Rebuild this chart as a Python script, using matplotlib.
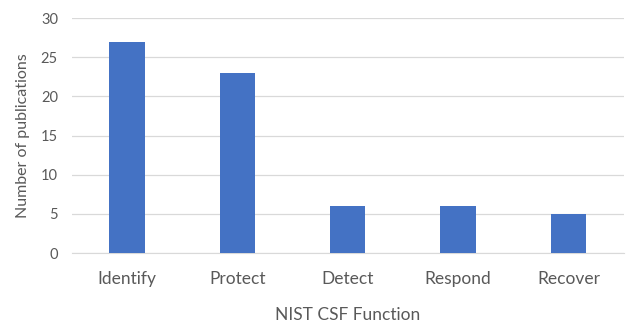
import matplotlib
matplotlib.use('Agg')
import matplotlib.pyplot as plt

# Data
functions = ['Identify', 'Protect', 'Detect', 'Respond', 'Recover']
publications = [27, 23, 6, 6, 5]

plt.rcParams['font.family'] = ['Lato', 'DejaVu Sans']
text_color = '#595959'

fig = plt.figure(figsize=(6.3, 3.22), dpi=100)
ax = fig.add_axes([0.114, 0.214, 0.876, 0.73])

ax.bar(range(len(functions)), publications, width=0.32, color='#4472C4', zorder=3)

ax.set_xlim(-0.5, len(functions) - 0.5)
ax.set_ylim(0, 30)
ax.set_yticks(range(0, 31, 5))
ax.set_xticks(range(len(functions)))
ax.set_xticklabels(functions)
ax.grid(axis='y', color='#D9D9D9', linewidth=0.9, zorder=0)

for side in ['top', 'right', 'left']:
    ax.spines[side].set_visible(False)
ax.spines['bottom'].set_color('#D9D9D9')
ax.tick_params(axis='both', length=0, colors=text_color)
ax.tick_params(axis='x', pad=13, labelsize=12.5)
ax.tick_params(axis='y', pad=10, labelsize=10.5)

ax.set_xlabel('NIST CSF Function', color=text_color, fontsize=12.5, labelpad=14)
ax.set_ylabel('Number of publications', color=text_color, fontsize=11.5, labelpad=8)

fig.savefig('out.png')
